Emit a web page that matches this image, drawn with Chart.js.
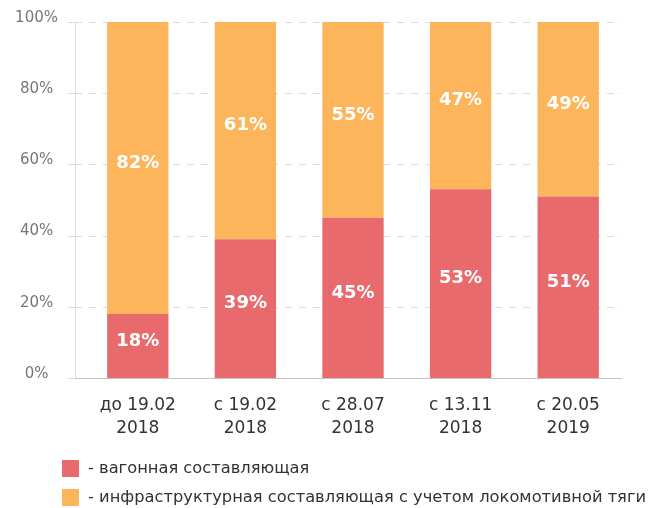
<!DOCTYPE html>
<html>
<head>
<meta charset="utf-8">
<script src="https://cdn.jsdelivr.net/npm/chart.js@4/dist/chart.umd.min.js"></script>
<style>
  html, body { margin: 0; padding: 0; background: #fff; }
  #wrap { width: 650px; height: 508px; position: relative; }
</style>
</head>
<body>
<div id="wrap"><canvas id="c"></canvas></div>
<script>
// Periods of the tariff change (two-line labels)
const categories = [
  ['до 19.02', '2018'],
  ['с 19.02', '2018'],
  ['с 28.07', '2018'],
  ['с 13.11', '2018'],
  ['с 20.05', '2019']
];
// Share of each component, %
const wagonShare = [18, 39, 45, 53, 51];
const infraShare = [82, 61, 55, 47, 49];
const seriesNames = [
  '- вагонная составляющая',
  '- инфраструктурная составляющая с учетом локомотивной тяги'
];
const yTicks = [0, 20, 40, 60, 80, 100];

const RED = '#E96A6C';
const ORANGE = '#FCB55B';
const FONT = '"DejaVu Sans", "Open Sans", sans-serif';
const AXIS_X = 75;      // where the vertical axis line sits
const GRID = '#dcdcdc';

// Axis lines, tick marks and dashed horizontal guides
const axisFrame = {
  id: 'axisFrame',
  beforeDatasetsDraw(chart) {
    const { ctx, chartArea } = chart;
    const y = chart.scales.y;
    ctx.save();
    ctx.lineWidth = 1;
    ctx.strokeStyle = GRID;
    yTicks.forEach(v => {
      const py = Math.round(y.getPixelForValue(v)) + 0.5;
      // short solid tick to the left of the axis
      ctx.setLineDash([]);
      ctx.beginPath();
      ctx.moveTo(AXIS_X - 7, py);
      ctx.lineTo(AXIS_X, py);
      ctx.stroke();
      if (v > 0) {
        ctx.setLineDash([7, 7]);
        ctx.beginPath();
        ctx.moveTo(AXIS_X, py);
        ctx.lineTo(chartArea.right, py);
        ctx.stroke();
      }
    });
    ctx.setLineDash([]);
    ctx.beginPath();
    ctx.moveTo(AXIS_X + 0.5, Math.round(y.getPixelForValue(100)));
    ctx.lineTo(AXIS_X + 0.5, Math.round(y.getPixelForValue(0)));
    ctx.stroke();
    ctx.strokeStyle = '#c4c4c4';
    const by = Math.round(y.getPixelForValue(0)) + 0.5;
    ctx.beginPath();
    ctx.moveTo(AXIS_X, by);
    ctx.lineTo(chartArea.right, by);
    ctx.stroke();
    ctx.restore();
  }
};

// White percentage labels inside every bar segment
const segmentLabels = {
  id: 'segmentLabels',
  afterDatasetsDraw(chart) {
    const ctx = chart.ctx;
    ctx.save();
    ctx.fillStyle = '#fff';
    ctx.font = 'bold 18px ' + FONT;
    ctx.textAlign = 'center';
    ctx.textBaseline = 'middle';
    chart.data.datasets.forEach((ds, di) => {
      chart.getDatasetMeta(di).data.forEach((bar, i) => {
        const p = bar.getProps(['x', 'y', 'base'], true);
        const cy = (p.y + p.base) / 2 - 5;
        ctx.fillText(ds.data[i] + '%', p.x, cy);
      });
    });
    ctx.restore();
  }
};

// Legend stacked in two rows under the axis labels
const stackedLegend = {
  id: 'stackedLegend',
  afterDraw(chart) {
    const ctx = chart.ctx;
    ctx.save();
    ctx.font = '16.3px ' + FONT;
    ctx.textBaseline = 'middle';
    ctx.textAlign = 'left';
    chart.data.datasets.forEach((ds, i) => {
      const y = 460 + i * 29;
      ctx.fillStyle = ds.backgroundColor;
      ctx.fillRect(62, y, 17, 17);
      ctx.fillStyle = '#333';
      ctx.fillText(ds.label, 88, y + 8.5);
    });
    ctx.restore();
  }
};

new Chart(document.getElementById('c'), {
  type: 'bar',
  data: {
    labels: categories,
    datasets: [
      { label: seriesNames[0], data: wagonShare, backgroundColor: RED },
      { label: seriesNames[1], data: infraShare, backgroundColor: ORANGE }
    ]
  },
  options: {
    responsive: true,
    maintainAspectRatio: false,
    animation: false,
    events: [],
    layout: { padding: { top: 22, right: 28, bottom: 58, left: 0 } },
    datasets: { bar: { barPercentage: 0.57, categoryPercentage: 1.0 } },
    plugins: { legend: { display: false }, tooltip: { enabled: false } },
    scales: {
      x: {
        stacked: true,
        grid: { display: false, drawTicks: false },
        border: { display: false },
        ticks: {
          color: '#333',
          font: { family: FONT, size: 17, lineHeight: 1.3 },
          padding: 17,
          maxRotation: 0
        },
        afterFit(s) { s.height = 72; }
      },
      y: {
        stacked: true,
        min: 0,
        max: 100,
        afterBuildTicks(s) { s.ticks = yTicks.map(v => ({ value: v })); },
        grid: { display: false, drawTicks: false },
        border: { display: false },
        ticks: {
          color: '#777',
          font: { family: FONT, size: 15 },
          padding: 26,
          crossAlign: 'center',
          labelOffset: -4,
          callback: v => v + '%'
        },
        afterFit(s) {
          s.width = 84;
          s.paddingTop = 0;
          s.paddingBottom = 0;
        }
      }
    }
  },
  plugins: [axisFrame, segmentLabels, stackedLegend]
});
</script>
</body>
</html>
